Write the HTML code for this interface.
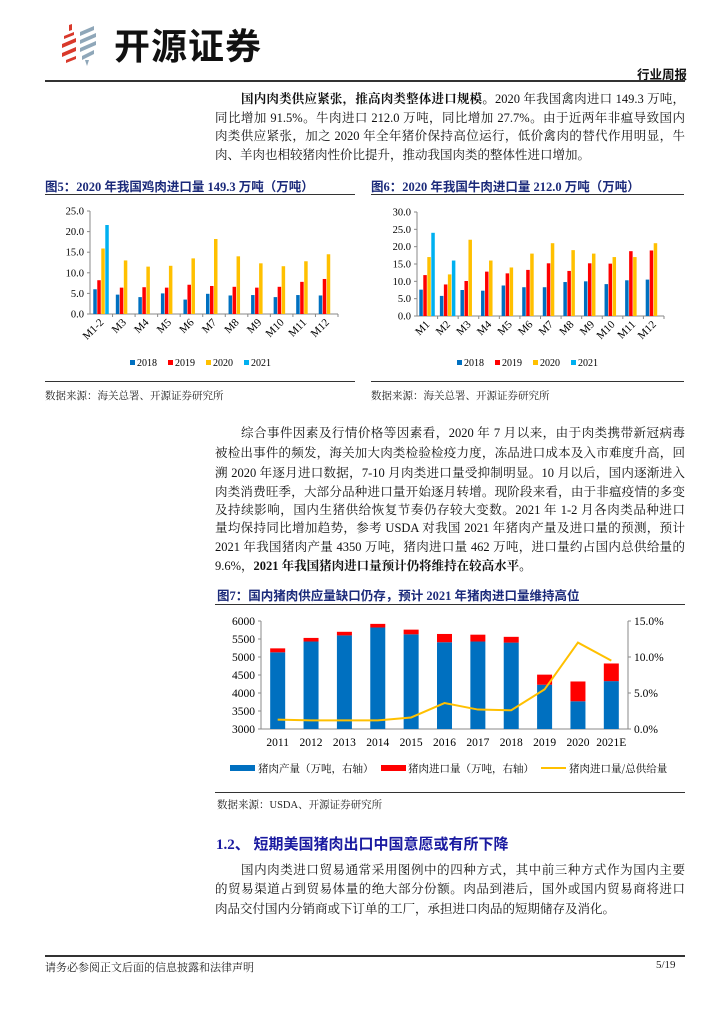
<!DOCTYPE html>
<html><head><meta charset="utf-8">
<style>
body{margin:0;background:#fff;}
#pg{position:relative;width:724px;height:1024px;overflow:hidden;font-family:"Liberation Serif","Noto Serif CJK SC",serif;color:#111;}
.a{position:absolute;white-space:nowrap;}
.ln{position:absolute;left:215px;width:470px;font-size:12.5px;line-height:19px;height:19px;text-align:justify;text-align-last:justify;white-space:nowrap;}
.ln.l{text-align-last:left;}
.ttl{position:absolute;font-size:12.5px;font-weight:bold;color:#1b2a7a;font-family:"Liberation Serif","Noto Sans CJK SC",serif;}
.rule{position:absolute;height:1px;background:#333;}
.src{position:absolute;font-size:10.5px;color:#222;}
</style></head><body><div id="pg">

<svg class="a" style="left:60px;top:22px" width="48" height="44" viewBox="0 0 48 44">
<g fill="#d9392b"><path d="M4 14 L14 10 L14 13 L4 17Z"/><path d="M2 22 L16 16 L16 20 L2 26Z"/><path d="M2 31 L16 25 L16 29 L2 35Z"/><path d="M6 38 L16 34 L16 37 L6 41Z"/><path d="M9 3 L12 2 L12 8 L9 9Z"/></g>
<g fill="#8fa7b9"><path d="M20 10 L34 4 L34 8 L20 14Z"/><path d="M20 18 L36 11 L36 15 L20 22Z"/><path d="M20 26 L36 19 L36 23 L20 30Z"/><path d="M22 34 L34 28 L34 32 L22 38Z"/><path d="M25 38 L29 38 L27 44Z"/></g>
</svg>
<div class="a" style="left:114px;top:18px;font-size:36px;font-weight:bold;font-family:'Noto Sans CJK SC',sans-serif;color:#111;letter-spacing:1px;">开源证券</div>
<div class="a" style="left:637px;top:64px;font-size:12.5px;font-weight:bold;font-family:'Noto Sans CJK SC',sans-serif;">行业周报</div>
<div class="rule" style="left:45px;top:80px;width:640px;height:1.5px;"></div>

<div class="ln" style="top:90px;"><span style="padding-left:26px"></span><b>国内肉类供应紧张，推高肉类整体进口规模。</b>2020 年我国禽肉进口 149.3 万吨，</div>
<div class="ln" style="top:109px;">同比增加 91.5%。牛肉进口 212.0 万吨，同比增加 27.7%。由于近两年非瘟导致国内</div>
<div class="ln" style="top:127px;">肉类供应紧张，加之 2020 年全年猪价保持高位运行，低价禽肉的替代作用明显，牛</div>
<div class="ln l" style="top:146px;">肉、羊肉也相较猪肉性价比提升，推动我国肉类的整体性进口增加。</div>

<div class="ttl" style="left:45px;top:176px;">图5：2020 年我国鸡肉进口量 149.3 万吨（万吨）</div>
<div class="rule" style="left:45px;top:194px;width:310px;"></div>
<div class="ttl" style="left:371px;top:176px;">图6：2020 年我国牛肉进口量 212.0 万吨（万吨）</div>
<div class="rule" style="left:371px;top:194px;width:313px;"></div>

<svg id="c5" class="a" style="left:0;top:0" width="724" height="1024"></svg>

<div class="rule" style="left:45px;top:381px;width:310px;"></div>
<div class="rule" style="left:371px;top:381px;width:313px;"></div>
<div class="src" style="left:45px;top:388px;">数据来源：海关总署、开源证券研究所</div>
<div class="src" style="left:371px;top:388px;">数据来源：海关总署、开源证券研究所</div>

<div class="ln" style="top:424px;"><span style="padding-left:26px"></span>综合事件因素及行情价格等因素看，2020 年 7 月以来，由于肉类携带新冠病毒</div>
<div class="ln" style="top:444px;">被检出事件的频发，海关加大肉类检验检疫力度，冻品进口成本及入市难度升高，回</div>
<div class="ln" style="top:464px;">溯 2020 年逐月进口数据，7-10 月肉类进口量受抑制明显。10 月以后，国内逐渐进入</div>
<div class="ln" style="top:483px;">肉类消费旺季，大部分品种进口量开始逐月转增。现阶段来看，由于非瘟疫情的多变</div>
<div class="ln" style="top:501px;">及持续影响，国内生猪供给恢复节奏仍存较大变数。2021 年 1-2 月各肉类品种进口</div>
<div class="ln" style="top:519px;">量均保持同比增加趋势，参考 USDA 对我国 2021 年猪肉产量及进口量的预测，预计</div>
<div class="ln" style="top:538px;">2021 年我国猪肉产量 4350 万吨，猪肉进口量 462 万吨，进口量约占国内总供给量的</div>
<div class="ln l" style="top:557px;">9.6%，<b>2021 年我国猪肉进口量预计仍将维持在较高水平。</b></div>

<div class="ttl" style="left:217px;top:585px;">图7：国内猪肉供应量缺口仍存，预计 2021 年猪肉进口量维持高位</div>
<div class="rule" style="left:215px;top:604px;width:470px;"></div>
<div class="rule" style="left:215px;top:792px;width:470px;"></div>
<div class="src" style="left:217px;top:797px;">数据来源：USDA、开源证券研究所</div>

<div class="a" style="left:216px;top:833px;font-size:15px;font-weight:bold;color:#1a1aa0;font-family:'Liberation Serif','Noto Sans CJK SC',serif;">1.2、 短期美国猪肉出口中国意愿或有所下降</div>
<div class="ln" style="top:861px;"><span style="padding-left:26px"></span>国内肉类进口贸易通常采用图例中的四种方式，其中前三种方式作为国内主要</div>
<div class="ln" style="top:880px;">的贸易渠道占到贸易体量的绝大部分份额。肉品到港后，国外或国内贸易商将进口</div>
<div class="ln l" style="top:900px;">肉品交付国内分销商或下订单的工厂，承担进口肉品的短期储存及消化。</div>

<div class="rule" style="left:45px;top:955px;width:640px;height:1.5px;"></div>
<div class="src" style="left:45px;top:959px;font-size:11px;">请务必参阅正文后面的信息披露和法律声明</div>
<div class="src" style="left:656px;top:959px;font-size:11px;">5/19</div>

<script>
var NS="http://www.w3.org/2000/svg",S=document.getElementById("c5");
function el(t,a,txt){var e=document.createElementNS(NS,t);for(var k in a)e.setAttribute(k,a[k]);if(txt!=null)e.textContent=txt;S.appendChild(e);return e;}
var C=["#0070c0","#ff0000","#ffc000","#00b0f0"],F="Liberation Serif";
function bars(x0,x1,y0,ymax,ypx,ticks,cats,data){
 var n=cats.length,w=(x1-x0)/n,bw=4;
 ticks.forEach(function(t){var y=y0-t/ymax*ypx;el("text",{x:x0-6,y:y+3.5,"font-size":"10.5","text-anchor":"end","font-family":F},t.toFixed(1));el("line",{x1:x0-3,x2:x0,y1:y,y2:y,stroke:"#888"});});
 el("line",{x1:x0,x2:x0,y1:y0-ypx,y2:y0,stroke:"#888"});
 el("line",{x1:x0,x2:x1,y1:y0,y2:y0,stroke:"#888"});
 for(var i=0;i<n;i++){
  var gx=x0+i*w+w/2-8;
  data.forEach(function(s,k){var v=s[i];if(v==null)return;var h=v/ymax*ypx;el("rect",{x:gx+k*bw,y:y0-h,width:bw-0.5,height:h,fill:C[k]});});
  el("line",{x1:x0+(i+1)*w,x2:x0+(i+1)*w,y1:y0,y2:y0+3,stroke:"#888"});
  var cx=x0+i*w+w/2+3,cy=y0+9;
  el("text",{x:cx,y:cy,"font-size":"11","text-anchor":"end","font-family":F,transform:"rotate(-45 "+cx+" "+cy+")"},cats[i]);
 }
}
bars(90,338,314,25,103,[0,5,10,15,20,25],["M1-2","M3","M4","M5","M6","M7","M8","M9","M10","M11","M12"],
[[6.0,4.7,4.1,5.0,3.5,4.9,4.5,4.6,4.1,4.6,4.5],[8.2,6.4,6.5,6.4,7.1,6.8,6.6,6.4,6.6,7.8,8.5],[15.9,13.0,11.5,11.7,13.5,18.2,14.0,12.3,11.6,12.8,14.5],[21.6]]);
bars(417,664,316,30,104,[0,5,10,15,20,25,30],["M1","M2","M3","M4","M5","M6","M7","M8","M9","M10","M11","M12"],
[[7.6,5.8,7.5,7.3,8.8,8.3,8.3,9.8,10,9.2,10.3,10.5],[11.8,9.1,10.1,12.8,12.3,13.3,15.2,13,15.2,15.1,18.7,18.9],[17,12,22,16,14,18,21,19,18,17,17,21],[24,16]]);
function leg(x,y){["2018","2019","2020","2021"].forEach(function(t,k){var xx=x+k*38;el("rect",{x:xx,y:y-6,width:5,height:5,fill:C[k]});el("text",{x:xx+7,y:y,"font-size":"10","font-family":F},t);});}
leg(130,366);leg(457,366);
var x0=261,x1=628,y0=729,ph=108,n=11,w=(x1-x0)/n;
[3000,3500,4000,4500,5000,5500,6000].forEach(function(t){var y=y0-(t-3000)/3000*ph;el("text",{x:x0-6,y:y+4,"font-size":"11.5","text-anchor":"end","font-family":F},t);el("line",{x1:x0-3,x2:x0,y1:y,y2:y,stroke:"#888"});});
[0,5,10,15].forEach(function(t){var y=y0-t/15*ph;el("text",{x:x1+6,y:y+4,"font-size":"11.5","font-family":F},t.toFixed(1)+"%");el("line",{x1:x1,x2:x1+3,y1:y,y2:y,stroke:"#888"});});
el("line",{x1:x0,x2:x0,y1:y0-ph,y2:y0,stroke:"#888"});el("line",{x1:x1,x2:x1,y1:y0-ph,y2:y0,stroke:"#888"});el("line",{x1:x0,x2:x1,y1:y0,y2:y0,stroke:"#888"});
var P=[5130,5430,5600,5820,5630,5410,5430,5400,4230,3770,4330],T=[5240,5530,5700,5920,5760,5640,5620,5560,4510,4320,4820],L=[1.3,1.2,1.2,1.2,1.6,3.6,2.7,2.6,5.5,12.0,9.5],Y=["2011","2012","2013","2014","2015","2016","2017","2018","2019","2020","2021E"];
var pts=[];
for(var i=0;i<n;i++){var cx=x0+i*w+w/2,bw=15;
 var yp=y0-(P[i]-3000)/3000*ph,yt=y0-(T[i]-3000)/3000*ph;
 el("rect",{x:cx-bw/2,y:yp,width:bw,height:y0-yp,fill:C[0]});
 el("rect",{x:cx-bw/2,y:yt,width:bw,height:yp-yt,fill:"#ff0000"});
 el("text",{x:cx,y:y0+17,"font-size":"11.5","text-anchor":"middle","font-family":F},Y[i]);
 pts.push(cx+","+(y0-L[i]/15*ph));}
el("polyline",{points:pts.join(" "),fill:"none",stroke:"#ffc000","stroke-width":"2"});
el("rect",{x:230,y:765,width:25,height:6,fill:C[0]});
el("text",{x:258,y:772,"font-size":"10.5","font-family":"Noto Serif CJK SC,serif"},"猪肉产量（万吨，右轴）");
el("rect",{x:381,y:765,width:25,height:6,fill:"#ff0000"});
el("text",{x:408,y:772,"font-size":"10.5","font-family":"Noto Serif CJK SC,serif"},"猪肉进口量（万吨，右轴）");
el("line",{x1:541,x2:566,y1:768,y2:768,stroke:"#ffc000","stroke-width":"2"});
el("text",{x:569,y:772,"font-size":"10.5","font-family":"Noto Serif CJK SC,serif"},"猪肉进口量/总供给量");
</script>
</div></body></html>
